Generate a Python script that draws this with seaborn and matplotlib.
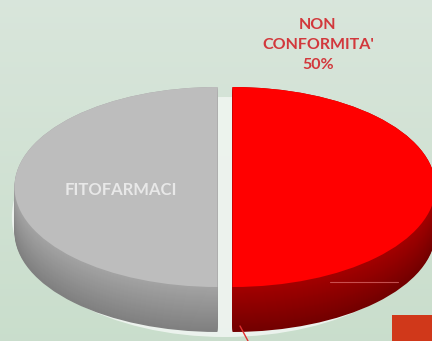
import numpy as np
import matplotlib
matplotlib.use("Agg")
import matplotlib.pyplot as plt
from matplotlib.patches import Ellipse, Rectangle
import seaborn as sns

sns.set_theme(style="white")
plt.rcParams['font.family'] = ['Lato', 'DejaVu Sans']

# Data
categories = ["FITOFARMACI", "NON CONFORMITA'"]
values = [50, 50]
top_colors = ["#bdbdbd", "#ff0000"]
side_top = np.array([[0.64, 0.64, 0.64], [0.64, 0.0, 0.0]])
side_bot = np.array([[0.50, 0.50, 0.50], [0.45, 0.0, 0.0]])

W, H = 432, 341
fig = plt.figure(figsize=(W / 100, H / 100), dpi=100)

# background gradient
bg = fig.add_axes([0, 0, 1, 1], zorder=0)
grad = np.linspace(0, 1, 256)[:, None]
c1 = np.array([0.85, 0.90, 0.86])
c2 = np.array([0.79, 0.87, 0.80])
img = c1[None, None, :] * (1 - grad[..., None]) + c2[None, None, :] * grad[..., None]
bg.imshow(img, aspect="auto", extent=[0, 1, 0, 1])
bg.axis("off")

ax = fig.add_axes([0, 0, 1, 1], zorder=1)
ax.patch.set_alpha(0)

# pixel -> data mapping: 1 unit x = 203 px, 1 unit y = 100 px
cx_px, cy_px = 225, 187
rx, ry = 203.0, 100.0

def px(x, y):
    return (x - cx_px) / rx, (cy_px - y) / ry

# whitish base plate
ax.add_patch(Ellipse((0, -0.30), 2 * 1.05, 2 * 1.20, facecolor="#eef4ef",
                     edgecolor="none", alpha=0.95, zorder=0))

explode = [0.037, 0.037]
thick = 0.45
N = 45
for i in range(N):
    t = i / (N - 1)
    k = thick * (1 - t)
    cols = [tuple(side_bot[j] * (1 - t) + side_top[j] * t) for j in range(2)]
    ax.pie(values, colors=cols, center=(0, -k), radius=1, explode=explode,
           startangle=90, counterclock=True, wedgeprops=dict(linewidth=0),
           frame=True)

wedges, _ = ax.pie(values, colors=top_colors, center=(0, 0), radius=1,
                   explode=explode, startangle=90, counterclock=True,
                   wedgeprops=dict(linewidth=0), frame=True)

ax.set_aspect("auto")
ax.set_xlim((0 - cx_px) / rx, (W - cx_px) / rx)
ax.set_ylim((cy_px - H) / ry, (cy_px - 0) / ry)
ax.axis("off")

# labels
ax.text(*px(121, 190), categories[0], color="#e8e8e8", fontsize=12,
        fontweight="bold", ha="center", va="center")
ax.text(*px(318, 45), "NON\nCONFORMITA'\n" + f"{values[1]}%", color="#d2383c",
        fontsize=11.5, fontweight="bold", ha="center", va="center",
        linespacing=1.55)

# faint leader line across the red side and small red tick
x0, y0 = px(330, 282)
x1, y1 = px(398, 282)
ax.plot([x0, x1], [y0, y1], color="#e07070", lw=0.8, alpha=0.7, zorder=4)
x0, y0 = px(240, 326)
x1, y1 = px(248, 341)
ax.plot([x0, x1], [y0, y1], color="#e03030", lw=1.0, zorder=4)

# decorative slide element bottom right
ax.add_patch(Rectangle(px(392, 341), 40 / rx, 26 / ry, facecolor="#d0381a",
                       edgecolor="none", zorder=5))

fig.savefig("out.png", dpi=100)
